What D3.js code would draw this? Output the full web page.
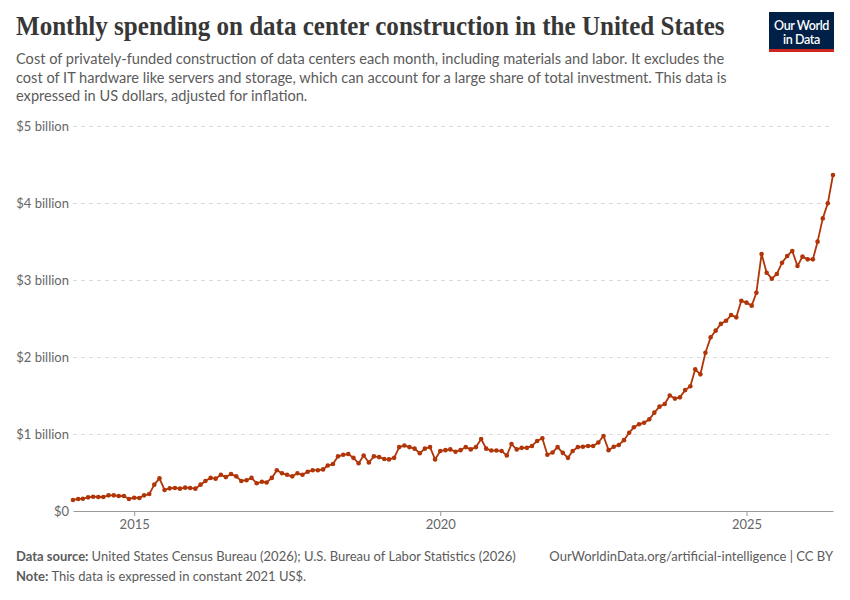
<!DOCTYPE html>
<html>
<head>
<meta charset="utf-8">
<script src="https://cdn.jsdelivr.net/npm/d3@7"></script>
<style>
  body { margin: 0; background: #fff; }
  svg { display: block; }
</style>
</head>
<body>
<div id="chart"></div>
<script>
// monthly series, Jan 2014 .. Jun 2026, billions of constant 2021 US$
var startYear = 2014;
var spending = [
  0.143, 0.156, 0.16, 0.177, 0.186, 0.182, 0.182, 0.203, 0.203, 0.195, 0.195, 0.156,
  0.173, 0.169, 0.203, 0.22, 0.342, 0.424, 0.273, 0.294, 0.299, 0.29, 0.303, 0.299,
  0.29, 0.342, 0.39, 0.43, 0.42, 0.47, 0.44, 0.48, 0.45, 0.39, 0.40, 0.43,
  0.36, 0.38, 0.37, 0.43, 0.53, 0.49, 0.47, 0.45, 0.49, 0.47, 0.51, 0.53,
  0.53, 0.54, 0.59, 0.61, 0.71, 0.73, 0.74, 0.69, 0.62, 0.72, 0.63, 0.71,
  0.70, 0.675, 0.67, 0.69, 0.83, 0.85, 0.83, 0.81, 0.75, 0.81, 0.83, 0.67,
  0.78, 0.79, 0.80, 0.77, 0.79, 0.83, 0.80, 0.83, 0.935, 0.81, 0.785, 0.785,
  0.78, 0.72, 0.87, 0.80, 0.82, 0.82, 0.845, 0.91, 0.945, 0.73, 0.76, 0.83,
  0.755, 0.69, 0.78, 0.83, 0.835, 0.845, 0.845, 0.89, 0.975, 0.79, 0.835, 0.857,
  0.92, 1.017, 1.087, 1.126, 1.147, 1.19, 1.277, 1.355, 1.39, 1.50, 1.46, 1.476,
  1.57, 1.62, 1.84, 1.775, 2.056, 2.255, 2.342, 2.43, 2.47, 2.545, 2.515, 2.73,
  2.706, 2.667, 2.835, 3.338, 3.095, 3.017, 3.078, 3.225, 3.312, 3.377, 3.182, 3.303,
  3.268, 3.268, 3.498, 3.80, 3.996, 4.364
];
var yTicks = [0, 1, 2, 3, 4, 5];
var yTickLabels = ["$0", "$1 billion", "$2 billion", "$3 billion", "$4 billion", "$5 billion"];
var xTicks = [2015, 2020, 2025];

var titleText = "Monthly spending on data center construction in the United States";
var subtitleLines = [
  "Cost of privately-funded construction of data centers each month, including materials and labor. It excludes the",
  "cost of IT hardware like servers and storage, which can account for a large share of total investment. This data is",
  "expressed in US dollars, adjusted for inflation."
];

var width = 850, height = 600;
var margin = { top: 126, right: 17, bottom: 89, left: 73 };

var data = spending.map(function (v, i) {
  return { date: new Date(startYear, i, 1), value: v };
});

var svg = d3.select("#chart").append("svg")
  .attr("width", width)
  .attr("height", height);

// header
var title = svg.append("text")
  .attr("x", 0)
  .attr("y", 0)
  .style("font-family", "'Liberation Serif', 'DejaVu Serif', serif")
  .style("font-size", "27px")
  .style("font-weight", "bold")
  .style("fill", "#373737")
  .text(titleText);
// playfair is not installed, squeeze the serif to the same width
var sx = Math.min(1, 709 / title.node().getComputedTextLength());
title.attr("transform", "translate(16,35) scale(" + sx + ",1)");

svg.append("g").selectAll("text")
  .data(subtitleLines)
  .enter().append("text")
  .attr("x", 16)
  .attr("y", function (d, i) { return 64 + i * 18.5; })
  .style("font-family", "Lato, sans-serif")
  .style("font-size", "14.6px")
  .style("fill", "#5b5b5b")
  .text(function (d) { return d; });

// logo
var logo = svg.append("g");
logo.append("rect")
  .attr("x", 769).attr("y", 12)
  .attr("width", 65).attr("height", 40)
  .style("fill", "#002147");
logo.append("rect")
  .attr("x", 769).attr("y", 49)
  .attr("width", 65).attr("height", 3)
  .style("fill", "#ce261e");
var logoText = logo.append("text")
  .attr("text-anchor", "middle")
  .style("font-family", "Lato, sans-serif")
  .style("font-size", "12.5px")
  .style("font-weight", "600")
  .style("letter-spacing", "-0.4px")
  .style("fill", "#fff");
logoText.selectAll("tspan")
  .data(["Our World", "in Data"])
  .enter().append("tspan")
  .attr("x", 801.5)
  .attr("y", function (d, i) { return 30 + i * 13.5; })
  .text(function (d) { return d; });

// scales
var x = d3.scaleTime()
  .domain([data[0].date, data[data.length - 1].date])
  .range([margin.left, width - margin.right]);
var y = d3.scaleLinear()
  .domain([0, 5])
  .range([height - margin.bottom, height - margin.bottom - 5 * 77]);

// y grid + labels
var yAxis = svg.append("g")
  .attr("transform", "translate(" + margin.left + ",0)")
  .call(d3.axisLeft(y)
    .tickValues(yTicks)
    .tickSize(-(width - margin.right - margin.left))
    .tickFormat(function (d, i) { return yTickLabels[i]; }));
yAxis.select(".domain").remove();
yAxis.selectAll(".tick line")
  .style("stroke", "#dddddd")
  .style("stroke-dasharray", "4,4");
yAxis.selectAll(".tick").filter(function (d) { return d === 0; }).select("line").remove();
yAxis.selectAll(".tick text")
  .attr("x", -4)
  .attr("dy", "0.32em")
  .style("font-family", "Lato, sans-serif")
  .style("font-size", "13px")
  .style("fill", "#666");

// x axis
var xAxis = svg.append("g")
  .attr("transform", "translate(0," + (height - margin.bottom) + ")")
  .call(d3.axisBottom(x)
    .tickValues(xTicks.map(function (yr) { return new Date(yr, 0, 1); }))
    .tickSize(5)
    .tickSizeOuter(0)
    .tickFormat(d3.timeFormat("%Y")));
xAxis.select(".domain").style("stroke", "#999");
xAxis.selectAll(".tick line").style("stroke", "#999");
xAxis.selectAll(".tick text")
  .attr("y", 9)
  .style("font-family", "Lato, sans-serif")
  .style("font-size", "13px")
  .style("fill", "#666");

// series
var color = "#b13507";
var line = d3.line()
  .x(function (d) { return x(d.date); })
  .y(function (d) { return y(d.value); });

svg.append("path")
  .datum(data)
  .attr("d", line)
  .style("fill", "none")
  .style("stroke", color)
  .style("stroke-width", 1.8)
  .style("stroke-linejoin", "round");

svg.append("g").selectAll("circle")
  .data(data)
  .enter().append("circle")
  .attr("cx", function (d) { return x(d.date); })
  .attr("cy", function (d) { return y(d.value); })
  .attr("r", 2.3)
  .style("fill", color);

// footer
var footer = svg.append("g")
  .style("font-family", "Lato, sans-serif")
  .style("font-size", "13px")
  .style("fill", "#5b5b5b");
var src = footer.append("text").attr("x", 16).attr("y", 561);
src.append("tspan").style("font-weight", "bold").text("Data source: ");
src.append("tspan").text("United States Census Bureau (2026); U.S. Bureau of Labor Statistics (2026)");
footer.append("text")
  .attr("x", 833)
  .attr("y", 561)
  .attr("text-anchor", "end")
  .text("OurWorldinData.org/artificial-intelligence | CC BY");
var note = footer.append("text").attr("x", 16).attr("y", 581);
note.append("tspan").style("font-weight", "bold").text("Note: ");
note.append("tspan").text("This data is expressed in constant 2021 US$.");
</script>
</body>
</html>
